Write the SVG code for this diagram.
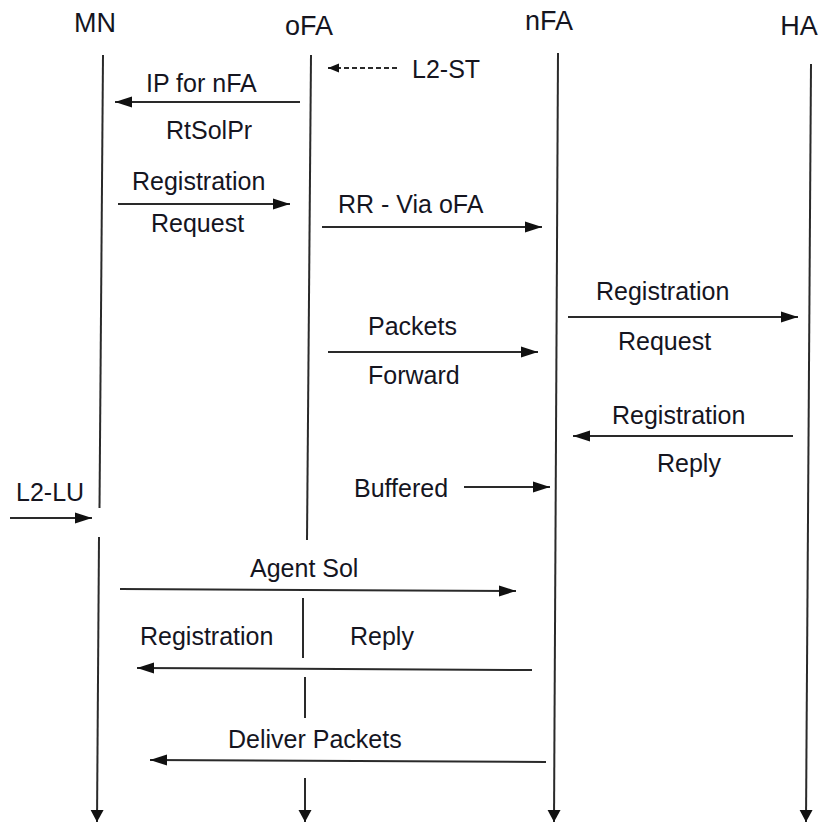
<svg xmlns="http://www.w3.org/2000/svg" width="820" height="822" viewBox="0 0 820 822">
<style>
text{font-family:"Liberation Sans",Arial,sans-serif;fill:#15151f}
.h{font-size:27px}
.t{font-size:25px}
.life{stroke:#2a2a2a;stroke-width:2;fill:none}
.msg{stroke:#2a2a2a;stroke-width:2;fill:none;marker-end:url(#ah)}
.dash{stroke-dasharray:5 3}
</style>
<defs>
<marker id="ah" markerUnits="userSpaceOnUse" markerWidth="18" markerHeight="12" refX="17" refY="6" orient="auto">
<path d="M0,0.5 L17,6 L0,11.5 Z" fill="#111"/>
</marker>
<marker id="ahs" markerUnits="userSpaceOnUse" markerWidth="12" markerHeight="10" refX="11" refY="5" orient="auto">
<path d="M0,0.5 L11,5 L0,9.5 Z" fill="#111"/>
</marker>
<marker id="ad" markerUnits="userSpaceOnUse" markerWidth="12" markerHeight="14" refX="12" refY="6.5" orient="auto">
<path d="M0,0 L12,6.5 L0,13 Z" fill="#111"/>
</marker>
</defs>
<rect width="820" height="822" fill="#fff"/>
<g id="MN">
<text class="h" x="95" y="32" text-anchor="middle">MN</text>
<line class="life" x1="103" y1="55" x2="99.5" y2="508"/>
<line class="life" x1="99" y1="537" x2="97" y2="822" marker-end="url(#ad)"/>
</g>
<g id="oFA">
<text class="h" x="309" y="35" text-anchor="middle">oFA</text>
<line class="life" x1="311" y1="55" x2="307" y2="540"/>
<line class="life" x1="303" y1="598" x2="303" y2="658"/>
<line class="life" x1="305" y1="677" x2="305" y2="718"/>
<line class="life" x1="305" y1="778" x2="305" y2="822" marker-end="url(#ad)"/>
</g>
<g id="nFA">
<text class="h" x="549" y="30" text-anchor="middle">nFA</text>
<line class="life" x1="558" y1="53" x2="554" y2="822" marker-end="url(#ad)"/>
</g>
<g id="HA">
<text class="h" x="799" y="35" text-anchor="middle">HA</text>
<line class="life" x1="811" y1="64" x2="806" y2="822" marker-end="url(#ad)"/>
</g>
<g id="connectors">
<line class="msg dash" x1="397" y1="68" x2="328" y2="68" style="marker-end:url(#ahs)"/>
<text class="t" x="412" y="78">L2-ST</text>

<line class="msg" x1="300" y1="102" x2="115" y2="102"/>
<text class="t" x="146" y="92">IP for nFA</text>
<text class="t" x="166" y="139">RtSolPr</text>

<line class="msg" x1="118" y1="204" x2="290" y2="204"/>
<text class="t" x="132" y="190">Registration</text>
<text class="t" x="151" y="232">Request</text>

<line class="msg" x1="322" y1="227" x2="542" y2="227"/>
<text class="t" x="338" y="213">RR - Via oFA</text>

<line class="msg" x1="568" y1="317" x2="798" y2="317"/>
<text class="t" x="596" y="300">Registration</text>
<text class="t" x="618" y="350">Request</text>

<line class="msg" x1="328" y1="352" x2="538" y2="352"/>
<text class="t" x="368" y="335">Packets</text>
<text class="t" x="368" y="384">Forward</text>

<line class="msg" x1="793" y1="436" x2="573" y2="436"/>
<text class="t" x="612" y="424">Registration</text>
<text class="t" x="657" y="472">Reply</text>

<line class="msg" x1="464" y1="487" x2="550" y2="487"/>
<text class="t" x="354" y="497">Buffered</text>

<line class="msg" x1="10" y1="518" x2="92" y2="518"/>
<text class="t" x="16" y="501">L2-LU</text>

<line class="msg" x1="120" y1="589" x2="516" y2="591"/>
<text class="t" x="250" y="577">Agent Sol</text>

<line class="msg" x1="532" y1="670" x2="137" y2="668"/>
<text class="t" x="140" y="645">Registration</text>
<text class="t" x="350" y="645">Reply</text>

<line class="msg" x1="546" y1="762" x2="150" y2="760"/>
<text class="t" x="228" y="748">Deliver Packets</text>
</g>
</svg>
